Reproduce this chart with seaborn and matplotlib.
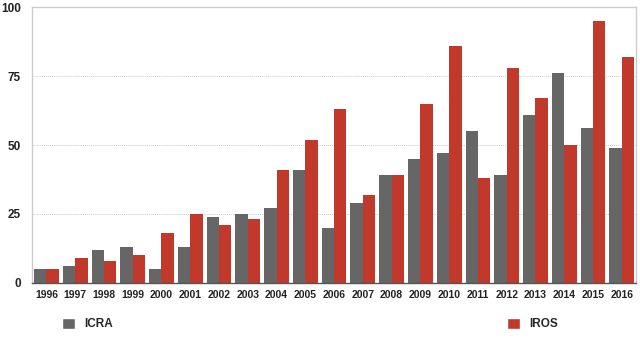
import pandas as pd
import numpy as np
import matplotlib
matplotlib.use("Agg")
import matplotlib.pyplot as plt
import seaborn as sns
from matplotlib.patches import Patch

# -------- Data --------
years = [str(y) for y in range(1996, 2017)]
icra = [5, 6, 12, 13, 5, 13, 24, 25, 27, 41, 20, 29, 39, 45, 47, 55, 39, 61, 76, 56, 49]
iros = [5, 9, 8, 10, 18, 25, 21, 23, 41, 52, 63, 32, 39, 65, 86, 38, 78, 67, 50, 95, 82]
series = ["ICRA", "IROS"]
colors = ["#666666", "#c0392b"]
yticks = [0, 25, 50, 75, 100]

df = pd.DataFrame({
    "Year": years * 2,
    "Count": icra + iros,
    "Conf": ["ICRA"] * len(years) + ["IROS"] * len(years),
})

# -------- Plot --------
sns.set_style("white")
plt.rcParams["font.family"] = ["Liberation Sans", "DejaVu Sans"]

fig = plt.figure(figsize=(6.4, 3.55), dpi=100)
ax = fig.add_axes([0.05, 0.203, 0.944, 0.777])

sns.barplot(data=df, x="Year", y="Count", hue="Conf", palette=colors,
            width=0.86, gap=0, saturation=1, linewidth=0, ax=ax, legend=False)

ax.set_ylim(0, 100)
ax.set_xlim(-0.5, len(years) - 0.5)
ax.set_yticks(yticks)
ax.set_xlabel("")
ax.set_ylabel("")
ax.tick_params(axis="x", length=0, labelsize=7.5, pad=5)
ax.tick_params(axis="y", length=0, labelsize=8.5, pad=8)
for lbl in ax.get_xticklabels() + ax.get_yticklabels():
    lbl.set_fontweight("bold")
    lbl.set_color("#222222")

ax.yaxis.grid(True, linestyle=(0, (1, 1)), color="#cccccc", linewidth=0.7)
ax.set_axisbelow(True)
for side in ["top", "left", "right"]:
    ax.spines[side].set_color("#cccccc")
    ax.spines[side].set_linewidth(1)
ax.spines["bottom"].set_color("#555555")
ax.spines["bottom"].set_linewidth(1)

handles = [Patch(facecolor=c, label=s) for c, s in zip(colors, series)]
fig.legend(handles=handles, ncol=2, loc="center left", bbox_to_anchor=(0.08, 0.087),
           frameon=False, handlelength=1.1, handleheight=1.1, handletextpad=0.8,
           columnspacing=33.4, prop={"weight": "bold", "size": 8.5})

fig.savefig("out.png", dpi=100)
